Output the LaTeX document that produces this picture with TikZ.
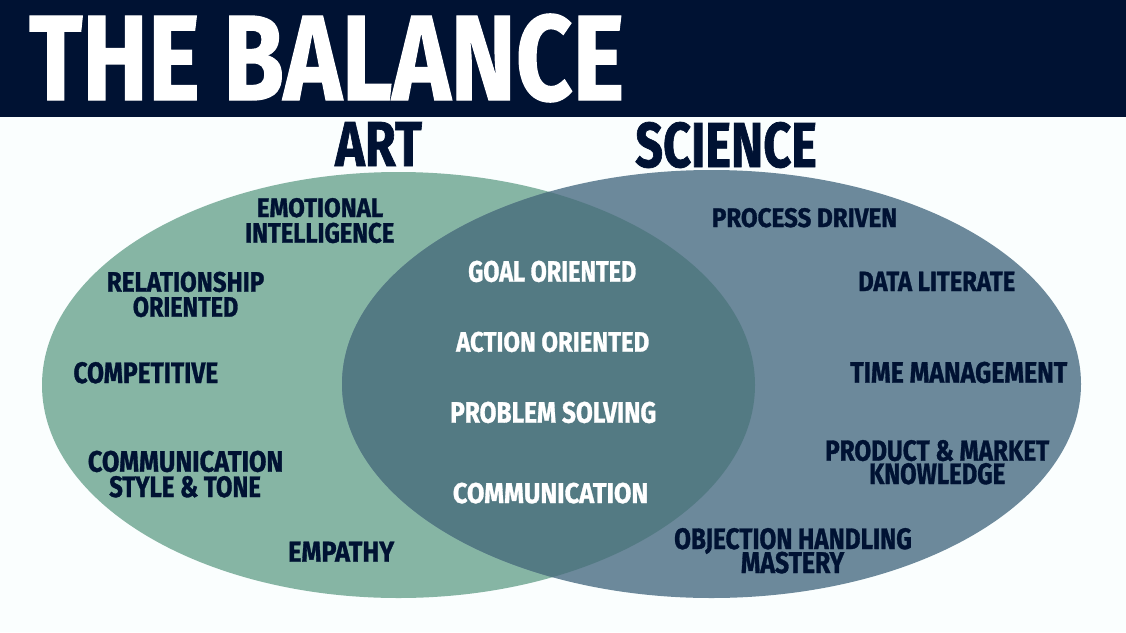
\documentclass[tikz,border=0pt]{standalone}
\usepackage{fontspec}
\setmainfont{Fira Sans}[BoldFeatures={FakeBold=1.2}]
\usepackage{graphicx}
\definecolor{navy}{RGB}{0,18,51}
\definecolor{bgc}{RGB}{250,254,254}
\definecolor{artgreen}{RGB}{134,181,164}
\definecolor{scigrey}{RGB}{108,137,155}
\definecolor{midteal}{RGB}{83,122,131}
\newcommand{\fitbox}[3]{\setbox0\hbox{\resizebox{#1pt}{#2pt}{\bfseries #3}}\dp0=0pt\box0}
\begin{document}
\begin{tikzpicture}[x=1pt,y=-1pt,
  lbl/.style={anchor=base west, inner sep=0pt, text=navy},
  wlbl/.style={anchor=base west, inner sep=0pt, text=white}]
\useasboundingbox (0,0) rectangle (1126,632);
\fill[bgc] (0,0) rectangle (1126,632);
\fill[navy] (0,0) rectangle (1126,117);
% ellipses
\fill[artgreen] (398.5,385) ellipse [x radius=356.5, y radius=213];
\fill[scigrey] (711.5,384) ellipse [x radius=369.5, y radius=214];
\begin{scope}
  \clip (398.5,385) ellipse [x radius=356.5, y radius=213];
  \fill[midteal] (711.5,384) ellipse [x radius=369.5, y radius=214];
\end{scope}
% title and headings
\node[wlbl] (title) at (29,100) {\fitbox{595}{86}{THE BALANCE}};
\node[lbl] (art) at (335,166) {\fitbox{86.7}{44}{ART}};
\node[lbl] (science) at (635,167) {\fitbox{181.7}{45}{SCIENCE}};
% art side
\node[lbl] (emo1) at (256.7,217) {\fitbox{126.3}{19}{EMOTIONAL}};
\node[lbl] (emo2) at (245,242.7) {\fitbox{149}{20}{INTELLIGENCE}};
\node[lbl] (rel1) at (106.7,291.7) {\fitbox{157.3}{20}{RELATIONSHIP}};
\node[lbl] (rel2) at (132.7,316.7) {\fitbox{105.3}{20}{ORIENTED}};
\node[lbl] (comp) at (73.3,383) {\fitbox{144.7}{21}{COMPETITIVE}};
\node[lbl] (cst1) at (87.7,471.7) {\fitbox{195.3}{21}{COMMUNICATION}};
\node[lbl] (cst2) at (109,497) {\fitbox{151.7}{21}{STYLE \& TONE}};
\node[lbl] (emp) at (288,561.7) {\fitbox{106}{20}{EMPATHY}};
% overlap
\node[wlbl] (goal) at (468,281.7) {\fitbox{168}{21}{GOAL ORIENTED}};
\node[wlbl] (action) at (456,351.7) {\fitbox{193}{20}{ACTION ORIENTED}};
\node[wlbl] (prob) at (450,422.7) {\fitbox{206}{21}{PROBLEM SOLVING}};
\node[wlbl] (comm) at (452.7,503) {\fitbox{195.3}{20.3}{COMMUNICATION}};
% science side
\node[lbl] (proc) at (711.7,227) {\fitbox{185.3}{19}{PROCESS DRIVEN}};
\node[lbl] (data) at (858,291) {\fitbox{157}{19.3}{DATA LITERATE}};
\node[lbl] (time) at (850,382.7) {\fitbox{217}{21}{TIME MANAGEMENT}};
\node[lbl] (prod1) at (825,460.7) {\fitbox{224}{20.7}{PRODUCT \& MARKET}};
\node[lbl] (prod2) at (869,484) {\fitbox{136}{21}{KNOWLEDGE}};
\node[lbl] (obj1) at (674,549) {\fitbox{237.7}{21}{OBJECTION HANDLING}};
\node[lbl] (obj2) at (740.7,573) {\fitbox{103.3}{21.3}{MASTERY}};
\end{tikzpicture}
\end{document}
